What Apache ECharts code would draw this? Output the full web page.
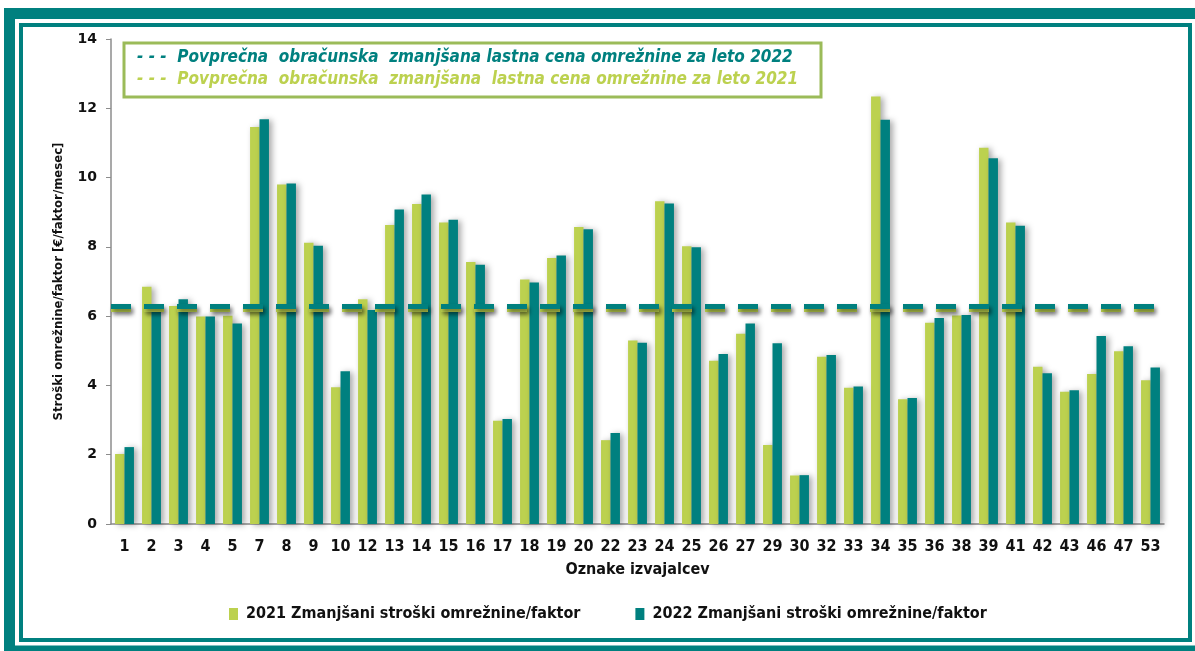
<!DOCTYPE html>
<html>
<head>
<meta charset="utf-8">
<script src="https://cdn.jsdelivr.net/npm/echarts@6/dist/echarts.min.js"></script>
<style>
  html, body { margin: 0; padding: 0; background: #ffffff; }
  #chart { width: 1195px; height: 651px; }
</style>
</head>
<body>
<div id="chart"></div>
<script>
const categories = ["1", "2", "3", "4", "5", "7", "8", "9", "10", "12", "13", "14", "15", "16", "17", "18", "19", "20",
  "22", "23", "24", "25", "26", "27", "29", "30", "32", "33", "34", "35", "36", "38", "39", "41", "42", "43", "46", "47", "53"];

const costs2021 = [2.02, 6.85, 6.29, 5.99, 6.01, 11.46, 9.80, 8.12, 3.95, 6.49, 8.63, 9.24, 8.70, 7.56, 2.98, 7.06, 7.68, 8.57,
  2.42, 5.30, 9.32, 8.02, 4.71, 5.49, 2.28, 1.40, 4.83, 3.93, 12.34, 3.60, 5.81, 6.02, 10.86, 8.70, 4.54, 3.82, 4.33, 4.99, 4.15];

const costs2022 = [2.22, 6.13, 6.49, 5.99, 5.79, 11.68, 9.83, 8.03, 4.41, 6.18, 9.08, 9.51, 8.78, 7.48, 3.03, 6.97, 7.75, 8.51,
  2.63, 5.23, 9.25, 7.99, 4.91, 5.79, 5.22, 1.41, 4.88, 3.97, 11.67, 3.64, 5.95, 6.03, 10.56, 8.61, 4.35, 3.86, 5.43, 5.13, 4.52];

const average2021 = 6.21;
const average2022 = 6.28;

const seriesNames = ["2021 Zmanjšani stroški omrežnine/faktor", "2022 Zmanjšani stroški omrežnine/faktor"];
const averageLabels = [
  "- - -  Povprečna  obračunska  zmanjšana lastna cena omrežnine za leto 2022",
  "- - -  Povprečna  obračunska  zmanjšana  lastna cena omrežnine za leto 2021",
];

const GREEN = "#bcd14f";
const TEAL = "#00807f";
const NARROW = "'Liberation Sans Narrow', 'DejaVu Sans Condensed', sans-serif";

const chart = echarts.init(document.getElementById("chart"));

const barShadow = {
  shadowColor: "rgba(0,0,0,0.35)",
  shadowBlur: 6,
  shadowOffsetX: 3,
  shadowOffsetY: 1,
};

function averageLine(value, color) {
  return {
    silent: true,
    symbol: "none",
    label: { show: false },
    lineStyle: {
      color,
      width: 5,
      type: [20, 13],
      shadowColor: "rgba(0,0,0,0.45)",
      shadowBlur: 4,
      shadowOffsetY: 3,
      shadowOffsetX: 2,
    },
    data: [{ yAxis: value }],
  };
}

chart.setOption({
  animation: false,
  textStyle: { fontFamily: NARROW },
  grid: { left: 111, right: 31, top: 39, bottom: 127 },
  legend: {
    bottom: 24,
    left: 224,
    itemWidth: 9,
    itemHeight: 12,
    itemGap: 55,
    icon: "rect",
    textStyle: { fontFamily: NARROW, fontWeight: "bold", fontSize: 16, color: "#111", padding: [0, 0, 0, 3] },
    data: seriesNames,
  },
  xAxis: {
    type: "category",
    data: categories,
    name: "Oznake izvajalcev",
    nameLocation: "middle",
    nameGap: 38,
    nameTextStyle: { fontFamily: NARROW, fontWeight: "bold", fontSize: 16, color: "#111" },
    axisLine: { lineStyle: { color: "#8c8c8c", width: 1.5 } },
    axisTick: { length: 5, lineStyle: { color: "#8c8c8c" } },
    axisLabel: { interval: 0, margin: 15, fontFamily: NARROW, fontWeight: "bold", fontSize: 16, color: "#111" },
  },
  yAxis: {
    type: "value",
    min: 0,
    max: 14,
    interval: 2,
    name: "Stroški omrežnine/faktor [€/faktor/mesec]",
    nameLocation: "middle",
    nameGap: 46,
    nameTextStyle: { fontFamily: NARROW, fontWeight: "bold", fontSize: 13, color: "#111" },
    axisLine: { show: true, lineStyle: { color: "#8c8c8c", width: 1.5 } },
    axisTick: { show: true, length: 5, lineStyle: { color: "#8c8c8c" } },
    axisLabel: { margin: 14, fontFamily: "'DejaVu Sans', sans-serif", fontWeight: "bold", fontSize: 14, color: "#111" },
    splitLine: { show: false },
  },
  series: [
    {
      name: seriesNames[0],
      type: "bar",
      data: costs2021,
      barGap: "0%",
      barCategoryGap: "30%",
      itemStyle: Object.assign({ color: GREEN }, barShadow),
      markLine: averageLine(average2021, GREEN),
    },
    {
      name: seriesNames[1],
      type: "bar",
      data: costs2022,
      itemStyle: Object.assign({ color: TEAL }, barShadow),
      markLine: averageLine(average2022, TEAL),
    },
  ],
  graphic: [
    // outer teal band and inner frame line
    {
      type: "rect",
      silent: true,
      shape: { x: 9.5, y: 13.5, width: 1200, height: 637.5 },
      style: { fill: "none", stroke: TEAL, lineWidth: 11 },
    },
    {
      type: "rect",
      silent: true,
      shape: { x: 21, y: 25, width: 1169, height: 615 },
      style: { fill: "none", stroke: TEAL, lineWidth: 4 },
    },
    // box with the average-price notes
    {
      type: "rect",
      silent: true,
      z: 20,
      shape: { x: 124, y: 43, width: 697, height: 54 },
      style: { fill: "#fff", stroke: "#9bbb59", lineWidth: 3 },
    },
    {
      type: "text",
      silent: true,
      z: 21,
      left: 137,
      top: 49,
      style: {
        text: averageLabels[0],
        fill: TEAL,
        font: "italic bold 17px " + NARROW,
      },
    },
    {
      type: "text",
      silent: true,
      z: 21,
      left: 137,
      top: 71,
      style: {
        text: averageLabels[1],
        fill: GREEN,
        font: "italic bold 17px " + NARROW,
      },
    },
  ],
});
</script>
</body>
</html>
